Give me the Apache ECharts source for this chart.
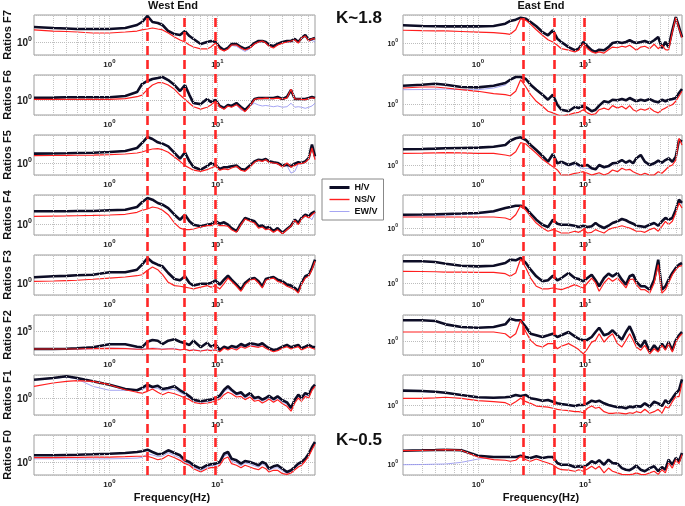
<!DOCTYPE html>
<html><head><meta charset="utf-8">
<script src="https://cdn.jsdelivr.net/npm/echarts@6/dist/echarts.min.js"></script>
<style>html,body{margin:0;padding:0;background:#fff}#c{width:685px;height:506px}</style>
</head><body><div id="c"></div>
<script>
// ---------- DATA ----------
const freq = [0.2,0.3,0.4,0.5,0.7,1.0,1.4,1.8,2.0,2.25,2.5,2.8,3.1,3.5,4.0,4.5,5.0,5.5,6.0,7.0,8.0,8.7,9.6,10.5,11.5,12.5,13.5,15,16.5,18,20,22,24,26,28,30,33,36,40,44,48,52,56,60,65,70,75,80];
const floors = ['F7','F6','F5','F4','F3','F2','F1','F0'];
const xTickExponents = [0, 1];
const dashWest = [2.25, 4.95, 9.45];
const dashEast = [2.57, 5.03, 9.55];

// West End
const westF7HV = [2.37,2.24,2.17,2.11,2.11,2.11,2.24,2.66,3.16,4.47,3.16,2.99,2.66,1.88,1.58,1.5,1.88,1.41,1.19,0.89,1.0,1.06,1.0,0.75,0.63,0.71,0.89,0.89,0.75,0.67,0.75,0.94,1.06,1.06,1.0,0.84,0.79,0.89,1.0,1.06,1.06,1.19,1.0,1.26,1.5,1.12,1.19,1.26];
const westF7NS = [2.0,1.88,1.83,1.78,1.68,1.68,1.78,1.88,2.0,2.11,2.24,2.11,2.0,1.68,1.33,1.12,1.0,0.84,0.75,0.67,0.67,0.75,0.94,0.67,0.6,0.67,0.84,0.84,0.71,0.63,0.71,0.89,1.0,1.06,0.94,0.79,0.71,0.84,0.94,1.0,1.06,1.12,0.94,1.26,1.41,1.06,1.19,1.19];
const westF7EW = [2.37,2.24,2.17,2.11,2.11,2.11,2.24,2.6,3.1,4.3,3.1,2.95,2.6,1.85,1.55,1.5,1.85,1.38,1.15,0.87,0.97,1.03,0.97,0.72,0.6,0.68,0.82,0.78,0.66,0.58,0.68,0.88,1.0,1.03,0.95,0.8,0.74,0.85,0.96,1.0,1.02,1.12,0.95,1.2,1.4,1.05,1.1,1.0];
const westF6HV = [1.14,1.15,1.17,1.17,1.17,1.17,1.26,1.58,2.51,2.99,3.35,3.55,3.76,3.16,2.37,1.68,2.37,1.33,0.84,0.79,1.06,0.89,1.0,0.71,0.63,0.75,0.71,0.84,0.67,0.56,0.75,1.06,1.12,1.12,1.12,1.12,1.12,1.19,1.06,1.19,1.78,1.06,1.06,1.06,1.06,1.12,1.19,1.12];
const westF6NS = [1.04,1.04,1.04,1.04,1.04,1.04,1.08,1.21,1.33,1.85,2.37,2.71,2.71,2.37,1.85,1.33,1.04,0.83,0.68,0.59,0.66,0.75,0.94,0.68,0.59,0.71,0.66,0.76,0.62,0.51,0.71,1.04,1.1,1.08,1.12,1.1,1.08,1.12,1.06,1.12,1.85,1.06,1.06,1.04,1.02,1.08,1.14,1.1];
const westF6EW = [1.14,1.15,1.17,1.17,1.17,1.17,1.26,1.55,2.45,2.9,3.25,3.45,3.6,3.0,2.3,1.6,2.2,1.25,0.8,0.76,1.0,0.86,0.96,0.69,0.6,0.72,0.75,0.75,0.56,0.53,0.71,0.83,0.75,0.71,0.73,0.71,0.68,0.71,0.66,0.68,0.83,0.66,0.68,0.66,0.62,0.66,0.71,0.83];
const westF5HV = [1.71,1.73,1.75,1.78,1.81,1.88,2.0,2.37,3.16,4.47,3.98,3.29,3.04,2.61,1.78,1.28,1.85,1.1,0.79,0.68,0.83,1.0,0.88,0.71,0.78,0.79,0.83,0.86,0.71,0.68,0.86,1.1,1.21,1.17,1.26,1.1,1.04,1.0,0.86,0.91,0.83,0.96,1.04,1.0,1.1,1.33,2.87,1.47];
const westF5NS = [1.52,1.54,1.55,1.56,1.58,1.61,1.68,1.78,1.88,2.08,2.24,2.28,2.15,1.85,1.41,1.1,0.86,0.75,0.66,0.62,0.68,0.75,0.83,0.66,0.71,0.68,0.75,0.83,0.66,0.62,0.79,1.04,1.17,1.1,1.21,1.04,1.0,0.96,0.79,1.0,0.79,0.86,0.96,0.96,1.04,1.26,2.37,1.21];
const westF5EW = [1.71,1.73,1.75,1.78,1.81,1.88,2.0,2.3,3.05,4.3,3.85,3.2,2.95,2.55,1.75,1.26,1.8,1.08,0.78,0.67,0.81,0.97,0.86,0.7,0.76,0.77,0.8,0.84,0.7,0.66,0.84,1.06,1.17,1.13,1.2,1.06,1.0,0.95,0.82,0.86,0.56,0.62,0.95,0.95,1.05,1.25,2.6,1.3];
const westF4HV = [2.08,2.08,2.09,2.11,2.11,2.2,2.28,2.66,3.49,4.47,4.05,3.35,3.04,2.51,1.71,1.28,1.71,1.17,0.96,0.88,0.96,1.0,1.17,1.02,1.1,0.96,0.79,0.66,1.02,1.41,1.28,1.17,0.88,0.91,0.79,0.84,0.66,0.79,0.6,0.75,0.91,1.28,1.06,1.41,1.71,1.56,1.88,2.08];
const westF4NS = [1.56,1.58,1.59,1.61,1.64,1.68,1.75,1.96,2.2,2.37,2.66,2.51,2.2,1.71,1.06,0.79,0.72,0.72,0.75,0.84,0.91,0.91,1.02,0.91,0.91,0.88,0.72,0.62,0.96,1.33,1.17,1.06,0.79,0.84,0.72,0.75,0.62,0.72,0.57,0.72,0.88,1.24,0.96,1.33,1.61,1.41,1.71,1.96];
const westF4EW = [2.08,2.08,2.09,2.11,2.11,2.2,2.28,2.6,3.4,4.35,3.95,3.28,2.98,2.45,1.68,1.26,1.68,1.15,0.95,0.87,0.95,0.98,1.14,1.0,1.07,0.94,0.77,0.65,1.0,1.38,1.25,1.14,0.86,0.89,0.77,0.82,0.65,0.77,0.6,0.74,0.89,1.24,1.04,1.36,1.6,1.5,1.28,1.9];
const westF3HV = [1.39,1.47,1.51,1.56,1.61,1.85,1.85,2.15,2.87,4.22,3.29,2.87,2.61,1.78,1.26,1.17,1.47,1.0,0.86,0.96,0.96,1.0,1.17,0.91,1.21,1.52,1.21,0.91,0.68,1.0,1.26,1.33,1.1,0.83,1.26,1.33,1.41,1.21,1.1,0.91,0.86,0.75,0.62,1.0,1.47,1.61,2.37,3.83];
const westF3NS = [1.1,1.12,1.15,1.17,1.24,1.33,1.41,1.52,1.61,2.08,2.51,2.15,1.61,1.04,0.86,0.83,0.79,0.75,0.71,0.79,0.86,0.79,0.86,0.71,0.96,1.33,1.1,0.83,0.62,0.91,1.17,1.26,1.0,0.75,1.17,1.26,1.33,1.1,1.0,0.83,0.75,0.68,0.56,0.91,1.33,1.47,2.15,3.49];
const westF3EW = [1.39,1.45,1.5,1.55,1.6,1.82,1.82,2.1,2.8,4.1,3.2,2.8,2.55,1.75,1.22,1.12,1.4,0.96,0.84,0.93,0.94,0.97,1.12,0.89,1.17,1.47,1.17,0.88,0.66,0.97,1.22,1.3,1.07,0.8,1.22,1.3,1.37,1.18,1.06,0.88,0.82,0.72,0.6,0.96,1.42,1.55,2.3,3.7];
const westF2HV = [25100,25100,25700,26500,28600,36000,36000,30000,28600,44000,50100,47500,36800,47500,52800,44000,38900,34200,47500,28600,40700,30000,36000,23300,30000,26500,31600,28600,36800,31600,38900,36800,34200,38900,31600,26500,23300,24600,30000,34200,28600,31600,34200,26500,30000,34200,30000,28600];
const westF2NS = [25100,25100,25100,25100,25700,26500,25700,24600,24600,25100,25700,25100,24600,25100,25100,23300,24600,22100,23300,21500,23300,22100,23300,20400,26500,23300,26500,23300,30000,26500,31600,30000,28600,31600,26500,23300,20400,22100,26500,30000,25100,27700,30000,23300,26500,30000,26500,24600];
const westF2EW = [24500,24500,24600,24800,25500,27000,26500,25000,24800,26000,27000,26500,25000,26000,26500,23800,24800,22800,23800,22000,23800,22800,23800,21000,28000,24500,29000,25000,32000,29000,34000,32000,30500,34500,29000,25000,21500,23500,29000,32000,27000,29500,32000,25000,29000,32000,29000,26500];
const westF1HV = [2.87,3.16,3.49,3.16,2.61,2.15,1.68,1.56,1.78,2.15,1.88,2.03,1.68,1.78,1.96,1.56,1.33,1.1,0.91,0.83,0.88,0.91,1.0,1.14,1.61,1.96,1.61,1.28,1.39,1.1,1.33,1.0,1.06,0.91,1.0,1.14,0.94,1.1,0.88,0.78,0.56,0.91,1.21,1.0,1.33,1.21,1.78,2.15];
const westF1NS = [1.96,2.37,2.61,2.71,2.61,2.15,1.61,1.39,1.33,1.47,1.68,1.39,1.21,1.39,1.28,1.14,1.0,0.91,0.78,0.72,0.75,0.78,0.83,0.94,1.21,1.39,1.28,1.06,1.1,0.91,1.06,0.83,0.88,0.75,0.83,0.94,0.78,0.91,0.72,0.62,0.47,0.75,1.0,0.83,1.1,1.0,1.56,1.96];
const westF1EW = [2.82,3.07,3.35,2.99,1.96,1.56,1.56,1.56,1.63,1.88,1.8,1.75,1.5,1.6,1.65,1.38,1.18,1.02,0.85,0.78,0.82,0.85,0.92,1.05,1.42,1.7,1.45,1.18,1.25,1.0,1.2,0.92,0.97,0.83,0.92,1.05,0.86,1.0,0.8,0.7,0.52,0.83,1.1,0.92,1.2,1.1,1.68,2.05];
const westF0HV = [1.47,1.47,1.5,1.52,1.56,1.61,1.68,1.78,1.85,2.03,1.78,1.56,1.61,1.96,1.68,1.47,1.1,1.0,0.83,0.68,0.83,0.88,0.91,1.0,1.61,1.78,1.21,1.1,0.91,1.06,1.0,0.91,0.83,1.0,0.91,0.68,0.78,0.83,0.68,0.56,0.62,0.75,0.91,1.0,1.21,1.61,2.37,3.16];
const westF0NS = [1.28,1.29,1.3,1.3,1.32,1.33,1.36,1.39,1.39,1.39,1.28,1.14,1.21,1.47,1.28,1.1,0.91,0.83,0.68,0.56,0.68,0.72,0.72,0.83,1.21,1.33,0.91,0.83,0.72,0.83,0.75,0.68,0.64,0.75,0.68,0.56,0.62,0.62,0.51,0.49,0.53,0.64,0.75,0.83,1.06,1.39,2.03,2.77];
const westF0EW = [1.2,1.2,1.2,1.19,1.19,1.2,1.22,1.25,1.3,1.6,1.5,1.35,1.4,1.7,1.45,1.25,0.98,0.9,0.75,0.6,0.75,0.8,0.82,0.92,1.4,1.55,1.05,0.95,0.8,0.95,0.88,0.8,0.74,0.88,0.8,0.62,0.7,0.72,0.6,0.52,0.58,0.7,0.84,0.92,1.15,1.5,2.2,3.0];

// East End
const eastF7HV = [2.77,2.66,2.63,2.61,2.61,2.61,2.66,3.04,3.55,3.83,4.3,4.05,3.35,2.61,1.88,1.56,2.08,1.28,1.06,0.79,0.66,0.72,1.06,0.83,0.66,0.6,0.68,0.66,0.79,1.0,1.06,1.0,1.06,1.17,1.06,1.0,1.06,1.12,1.0,1.17,1.41,0.75,1.06,0.79,2.08,4.47,2.51,1.41];
const eastF7NS = [2.08,2.04,2.02,2.0,1.94,1.88,1.81,1.71,1.65,2.15,4.05,3.69,2.93,2.15,1.56,1.21,1.06,0.88,0.72,0.66,0.6,0.66,0.96,0.72,0.6,0.56,0.6,0.56,0.68,0.79,0.76,0.83,0.79,0.88,0.76,0.66,0.79,0.83,0.72,0.93,0.72,0.88,0.68,0.66,1.88,4.3,2.28,1.36];
const eastF7EW = [2.77,2.66,2.63,2.61,2.61,2.61,2.66,3.0,3.5,3.8,4.25,4.0,3.3,2.58,1.85,1.53,2.0,1.25,1.0,0.74,0.62,0.68,1.0,0.8,0.64,0.58,0.66,0.64,0.77,0.97,1.03,0.98,1.03,1.13,1.03,0.97,1.03,1.08,0.98,1.13,1.35,0.74,1.03,0.78,2.0,4.3,2.45,1.4];
const eastF6HV = [2.87,3.04,3.22,3.04,2.66,2.61,2.87,3.35,4.05,4.73,4.73,4.22,3.04,2.28,1.71,1.28,1.71,0.96,0.72,0.66,0.84,0.79,0.91,0.79,0.66,0.72,0.91,1.17,1.1,1.28,1.24,1.33,1.24,1.41,1.28,1.17,1.28,1.21,1.33,1.17,1.1,1.28,1.17,1.28,1.33,1.41,1.88,2.37];
const eastF6NS = [2.51,2.66,2.66,2.51,2.28,2.08,1.81,1.71,1.61,2.08,4.05,2.66,1.71,1.17,0.88,0.66,0.6,0.54,0.49,0.54,0.6,0.62,0.72,0.6,0.54,0.57,0.72,0.79,0.72,0.91,0.79,0.88,0.75,0.91,0.72,0.66,0.75,0.7,0.79,0.66,0.6,0.72,0.79,0.88,0.96,1.17,1.56,2.08];
const eastF6EW = [2.28,2.3,2.34,2.37,2.28,2.28,2.51,2.99,3.9,4.6,4.6,4.1,2.98,2.24,1.68,1.26,1.66,0.94,0.7,0.64,0.82,0.77,0.89,0.77,0.64,0.7,0.88,1.13,1.06,1.24,1.2,1.29,1.2,1.36,1.24,1.13,1.24,1.17,1.28,1.13,1.06,1.24,1.13,1.22,1.26,1.33,1.75,2.2];
const eastF5HV = [2.47,2.51,2.56,2.61,2.66,2.71,2.87,3.16,4.05,4.65,4.92,4.22,3.16,2.37,1.68,1.21,1.88,1.1,1.21,1.0,1.14,1.0,0.94,1.0,0.83,0.78,1.0,0.88,0.94,1.1,1.14,1.33,1.14,1.28,1.1,1.47,1.78,1.21,1.0,1.1,1.28,1.14,1.33,1.47,1.21,1.61,4.22,3.83];
const eastF5NS = [1.96,1.98,2.01,2.03,2.0,1.96,1.96,1.78,1.68,2.15,3.61,3.35,2.61,1.96,1.39,1.1,0.91,0.75,0.56,0.56,0.62,0.64,0.68,0.62,0.56,0.6,0.64,0.56,0.62,0.75,0.68,0.83,0.75,0.78,0.68,0.62,0.56,0.62,0.56,0.56,0.68,0.62,0.75,0.91,1.0,1.33,4.65,3.16];
const eastF5EW = [2.47,2.51,2.56,2.61,2.66,2.71,2.85,3.1,3.95,4.55,4.85,4.15,3.1,2.33,1.65,1.18,1.8,1.06,1.15,0.95,1.06,0.92,0.8,0.82,0.8,0.76,0.95,0.85,0.9,1.05,1.1,1.28,1.1,1.22,1.06,1.4,1.7,1.17,0.97,1.06,1.22,1.1,1.28,1.4,1.17,1.55,4.3,3.6];
const eastF4HV = [2.15,2.17,2.2,2.24,2.3,2.37,2.61,3.16,3.35,3.61,3.61,3.16,2.28,1.61,1.21,1.06,1.61,1.28,1.21,1.21,1.14,1.06,1.14,1.06,1.1,1.33,1.14,1.0,1.14,1.33,1.47,1.68,1.56,1.39,1.28,1.14,1.1,1.06,1.21,1.33,1.14,1.47,1.78,1.61,1.78,2.87,5.1,4.22];
const eastF4NS = [1.88,1.88,1.88,1.88,1.88,1.88,1.88,1.78,1.61,2.15,3.61,2.77,1.96,1.33,1.0,0.83,0.91,0.83,0.75,0.75,0.83,0.78,0.91,0.75,0.78,0.91,0.83,0.75,0.91,1.0,1.06,1.14,1.06,1.0,0.91,0.83,0.83,0.78,0.91,1.0,0.83,1.1,1.47,1.21,1.47,2.37,4.22,3.16];
const eastF4EW = [2.0,2.02,2.05,2.1,2.15,2.25,2.5,3.05,3.25,3.5,3.5,3.05,2.2,1.56,1.18,1.03,1.55,1.24,1.17,1.17,1.1,1.03,1.1,1.03,1.06,1.28,1.1,0.97,1.1,1.28,1.42,1.62,1.5,1.34,1.24,1.1,1.06,1.03,1.17,1.28,1.1,1.42,1.72,1.56,1.72,2.75,4.9,4.0];
const eastF3HV = [3.49,3.49,3.35,3.04,2.71,2.61,2.71,3.16,3.83,3.69,4.22,3.16,2.15,1.47,1.1,1.17,1.52,1.17,1.33,1.78,1.33,1.26,1.1,1.33,1.61,1.17,0.83,1.33,1.71,1.47,1.78,1.21,0.91,1.47,1.61,1.1,0.83,0.83,0.68,1.21,3.83,0.68,0.83,1.21,1.78,2.37,2.87,3.16];
const eastF3NS = [1.96,1.94,1.91,1.88,1.86,1.85,1.85,1.71,1.47,1.78,3.98,2.37,1.33,0.83,0.71,0.71,0.75,0.71,0.68,0.79,0.91,0.83,0.75,1.0,1.33,1.0,0.62,1.0,1.33,1.1,1.33,1.0,0.75,1.21,1.26,0.91,0.68,0.68,0.56,1.0,2.87,0.56,0.68,1.0,1.61,2.15,2.61,2.71];
const eastF3EW = [3.49,3.49,3.35,3.04,2.71,2.61,2.71,3.1,3.75,3.6,4.1,3.1,2.1,1.44,1.07,1.13,1.48,1.13,1.28,1.72,1.28,1.22,1.06,1.28,1.56,1.13,0.8,1.28,1.66,1.42,1.72,1.17,0.88,1.42,1.56,1.06,0.8,0.8,0.66,1.17,3.6,0.66,0.8,1.17,1.7,2.3,2.8,3.1];
const eastF2HV = [3.29,3.29,3.16,2.61,2.24,2.15,2.24,2.61,3.61,3.29,3.29,2.24,1.52,1.39,1.26,1.39,1.52,1.26,1.39,1.68,1.31,1.14,1.04,1.08,1.26,1.68,2.15,1.39,1.52,1.85,1.39,1.08,1.68,2.33,1.52,0.94,0.71,1.04,0.53,0.78,0.59,0.86,0.64,0.94,0.59,1.04,1.39,1.68];
const eastF2NS = [1.68,1.68,1.68,1.68,1.68,1.68,1.68,1.52,1.21,1.52,3.29,1.68,1.04,0.78,0.71,0.86,0.86,0.64,0.74,0.86,0.71,0.61,0.48,0.64,0.94,1.04,1.52,0.94,1.26,1.52,0.86,0.71,1.04,1.52,1.04,0.71,0.59,0.78,0.48,0.64,0.53,0.78,0.59,0.86,0.53,0.94,1.26,1.52];
const eastF2EW = [3.29,3.29,3.16,2.61,2.24,2.15,2.24,2.58,3.5,3.2,3.2,2.2,1.48,1.35,1.22,1.35,1.48,1.22,1.35,1.62,1.27,1.1,1.0,1.04,1.22,1.62,2.08,1.35,1.48,1.8,1.35,1.04,1.62,2.25,1.48,0.9,0.68,1.0,0.51,0.75,0.56,0.83,0.61,0.9,0.56,1.0,1.35,1.62];
const eastF1HV = [2.28,2.24,2.14,2.03,1.78,1.56,1.52,1.56,1.61,1.78,1.68,1.78,1.47,1.39,1.28,1.33,1.21,1.1,1.06,1.0,0.94,1.0,1.0,1.1,1.28,1.21,1.28,1.1,1.0,0.94,0.88,0.88,0.83,0.91,0.88,0.94,0.91,1.1,0.91,1.21,1.1,0.94,1.33,1.1,1.47,1.96,2.37,4.39];
const eastF1NS = [1.47,1.47,1.51,1.56,1.47,1.28,1.21,1.14,1.0,1.21,1.47,1.21,1.1,0.94,0.91,0.88,0.83,0.78,0.75,0.72,0.68,0.68,0.64,0.83,0.94,0.83,0.88,0.68,0.62,0.62,0.64,0.62,0.6,0.64,0.62,0.68,0.64,0.78,0.62,0.68,0.78,0.62,0.91,0.83,1.21,1.61,1.61,3.49];
const eastF1EW = [2.2,2.16,2.08,1.98,1.74,1.53,1.49,1.53,1.58,1.74,1.65,1.74,1.44,1.36,1.25,1.3,1.18,1.07,1.03,0.97,0.91,0.97,0.97,1.07,1.25,1.18,1.25,1.07,0.97,0.91,0.85,0.85,0.8,0.88,0.85,0.91,0.88,1.07,0.88,1.17,1.07,0.91,1.3,1.07,1.42,1.9,2.3,4.2];
const eastF0HV = [2.15,2.2,2.24,2.28,2.2,1.61,1.5,1.5,1.5,1.5,1.61,1.5,1.41,1.56,1.41,1.5,1.5,1.06,0.96,0.96,0.84,0.88,0.84,0.96,1.17,1.06,1.24,0.96,1.28,1.06,1.02,0.79,0.72,0.7,0.79,0.91,0.72,0.66,0.79,0.88,0.66,0.84,0.72,1.28,0.96,1.41,1.17,1.88];
const eastF0NS = [2.15,2.2,2.24,2.28,2.2,1.5,1.28,1.24,1.17,1.24,1.56,1.28,1.17,1.33,1.17,1.06,0.96,0.79,0.72,0.7,0.66,0.72,0.66,0.75,0.88,0.75,0.88,0.6,0.79,0.66,0.6,0.55,0.54,0.54,0.56,0.6,0.55,0.54,0.6,0.66,0.55,0.72,0.6,1.06,0.79,1.28,1.02,1.71];
const eastF0EW = [0.96,0.97,0.99,1.0,1.1,1.33,1.45,1.48,1.48,1.48,1.58,1.47,1.38,1.52,1.38,1.47,1.45,1.02,0.93,0.92,0.81,0.85,0.81,0.92,1.12,1.02,1.18,0.92,1.22,1.02,0.98,0.76,0.69,0.67,0.76,0.87,0.69,0.63,0.76,0.84,0.63,0.8,0.69,1.22,0.92,1.35,1.12,1.8];

// y-axis ranges (log scale) per panel, top row (F7) to bottom row (F0)
const westYMin = [0.473,0.422,0.501,0.531,0.501,15850,0.376,0.473];
const westYMax = [4.73,4.22,5.01,5.31,5.01,341000,3.76,4.73];
const westYTickExp = [0,0,0,0,0,5,0,0];
const eastYMin = [0.501,0.531,0.562,0.668,0.501,0.447,0.562,0.531];
const eastYMax = [5.01,5.31,5.62,6.68,5.01,4.47,5.62,5.31];

const westHV = [westF7HV,westF6HV,westF5HV,westF4HV,westF3HV,westF2HV,westF1HV,westF0HV];
const westNS = [westF7NS,westF6NS,westF5NS,westF4NS,westF3NS,westF2NS,westF1NS,westF0NS];
const westEW = [westF7EW,westF6EW,westF5EW,westF4EW,westF3EW,westF2EW,westF1EW,westF0EW];
const eastHV = [eastF7HV,eastF6HV,eastF5HV,eastF4HV,eastF3HV,eastF2HV,eastF1HV,eastF0HV];
const eastNS = [eastF7NS,eastF6NS,eastF5NS,eastF4NS,eastF3NS,eastF2NS,eastF1NS,eastF0NS];
const eastEW = [eastF7EW,eastF6EW,eastF5EW,eastF4EW,eastF3EW,eastF2EW,eastF1EW,eastF0EW];

const minorGrid = [0.3,0.4,0.5,0.6,0.7,0.8,0.9,1,2,3,4,5,6,7,8,9,10,20,30,40,50,60,70];

// ---------- CHART ----------
const FONT = '"Liberation Sans", Arial, Helvetica, sans-serif';
const chart = echarts.init(document.getElementById('c'), null, {renderer:'canvas'});
const grids = [], xAxes = [], yAxes = [], series = [];

function powLabel(v, allowed) {
  const e = Math.log10(v), r = Math.round(e);
  if (Math.abs(e - r) > 1e-6 || allowed.indexOf(r) < 0) return '';
  return '{b|10}{s|' + r + '}';
}
function rich(big, small, lh) {
  return {
    b: {fontSize: big, fontWeight: 'bold', color: '#1a1a1a', fontFamily: FONT, lineHeight: lh, verticalAlign: 'bottom'},
    s: {fontSize: small, fontWeight: 'bold', color: '#1a1a1a', fontFamily: FONT, lineHeight: small, verticalAlign: 'top'}
  };
}
const pairs = (arr) => freq.map((f, k) => [f, arr[k]]);

const columns = [
  {left: 34, hv: westHV, ns: westNS, ew: westEW, ymin: westYMin, ymax: westYMax, named: true},
  {left: 403, hv: eastHV, ns: eastNS, ew: eastEW, ymin: eastYMin, ymax: eastYMax, named: false}
];

let gi = 0;
columns.forEach((col, ci) => {
  for (let r = 0; r < 8; r++) {
    const ymin = col.ymin[r], ymax = col.ymax[r];
    const exp = ci === 0 ? westYTickExp[r] : 0;
    grids.push({left: col.left, top: 15 + 60 * r, width: 281, height: 40, show: true,
      borderColor: '#9d9d9d', borderWidth: 1, backgroundColor: '#fff'});
    xAxes.push({type: 'log', logBase: 10, gridIndex: gi, min: 0.2, max: 80,
      axisLine: {show: false}, axisTick: {show: false}, splitLine: {show: false},
      axisLabel: {margin: 3, formatter: v => powLabel(v, xTickExponents), rich: rich(8, 6, 11)}});
    yAxes.push({type: 'log', logBase: 10, gridIndex: gi, min: ymin, max: ymax,
      axisLine: {show: false}, axisTick: {show: false},
      splitLine: {show: true, lineStyle: {color: '#bdbdbd', type: 'dotted', width: 1}},
      axisLabel: ci === 0
        ? {margin: 2, formatter: v => powLabel(v, [exp]), rich: rich(10, 7, 13)}
        : {margin: 5, formatter: v => powLabel(v, [0]), rich: rich(7, 5, 9)},
      name: col.named ? 'Ratios ' + floors[r] : '',
      nameLocation: 'middle', nameGap: 18, nameRotate: 90,
      nameTextStyle: {fontSize: 11, fontWeight: 'bold', color: '#111', fontFamily: FONT}});
    // minor log grid (vertical dotted lines)
    series.push({type: 'line', xAxisIndex: gi, yAxisIndex: gi, data: [[1, ymin * 1.01]],
      showSymbol: false, symbol: 'none', lineStyle: {opacity: 0}, silent: true, z: 1,
      markLine: {silent: true, symbol: ['none', 'none'], label: {show: false}, animation: false,
        lineStyle: {color: '#c4c4c4', type: 'dotted', width: 1},
        data: minorGrid.map(v => ({xAxis: v}))}});
    series.push({name: 'EW/V', type: 'line', xAxisIndex: gi, yAxisIndex: gi, data: pairs(col.ew[r]),
      symbol: 'none', lineStyle: {color: '#8f8ff0', width: 1, opacity: 0.8}, itemStyle: {color: '#8f8ff0'}, z: 2});
    series.push({name: 'H/V', type: 'line', xAxisIndex: gi, yAxisIndex: gi, data: pairs(col.hv[r]),
      symbol: 'none', lineStyle: {color: '#0d0d26', width: 2.6}, itemStyle: {color: '#0d0d26'}, z: 3});
    series.push({name: 'NS/V', type: 'line', xAxisIndex: gi, yAxisIndex: gi, data: pairs(col.ns[r]),
      symbol: 'none', lineStyle: {color: '#ff1f1f', width: 1.2}, itemStyle: {color: '#ff1f1f'}, z: 4});
    gi++;
  }
});

// overlay grids for the long dashed reference lines
[[34, dashWest], [403, dashEast]].forEach(([left, vals]) => {
  grids.push({left: left, top: 15, width: 281, height: 460, show: false});
  xAxes.push({type: 'log', logBase: 10, gridIndex: gi, min: 0.2, max: 80, show: false});
  yAxes.push({type: 'value', gridIndex: gi, min: 0, max: 1, show: false});
  series.push({type: 'line', xAxisIndex: gi, yAxisIndex: gi, data: [[1, 0.5]], symbol: 'none',
    lineStyle: {opacity: 0}, silent: true, z: 10,
    markLine: {silent: true, symbol: ['none', 'none'], label: {show: false}, animation: false,
      lineStyle: {color: '#ff2626', type: [9, 5], width: 2.6},
      data: vals.map(v => ({xAxis: v}))}});
  gi++;
});

chart.setOption({
  animation: false,
  backgroundColor: '#fff',
  textStyle: {fontFamily: FONT},
  grid: grids, xAxis: xAxes, yAxis: yAxes, series: series,
  legend: {data: [
      {name: 'H/V', itemStyle: {opacity: 0}, lineStyle: {width: 3, color: '#0d0d26'}},
      {name: 'NS/V', itemStyle: {opacity: 0}, lineStyle: {width: 1.4, color: '#ff1f1f'}},
      {name: 'EW/V', itemStyle: {opacity: 0}, lineStyle: {width: 1, color: '#9090f0'}}],
    orient: 'vertical', left: 322, top: 179,
    padding: [4, 6], itemGap: 3, itemWidth: 20, itemHeight: 10,
    itemStyle: {opacity: 0},
    borderColor: '#888', borderWidth: 1, backgroundColor: '#fff',
    textStyle: {fontSize: 9, fontWeight: 'bold', color: '#111', fontFamily: FONT}},
  graphic: [
    {type: 'text', x: 173, y: 6, style: {text: 'West End', font: 'bold 11px ' + FONT, fill: '#111', align: 'center', verticalAlign: 'middle'}},
    {type: 'text', x: 541, y: 6, style: {text: 'East End', font: 'bold 11px ' + FONT, fill: '#111', align: 'center', verticalAlign: 'middle'}},
    {type: 'text', x: 359, y: 18, style: {text: 'K~1.8', font: 'bold 17px ' + FONT, fill: '#111', align: 'center', verticalAlign: 'middle'}},
    {type: 'text', x: 359, y: 440, style: {text: 'K~0.5', font: 'bold 17px ' + FONT, fill: '#111', align: 'center', verticalAlign: 'middle'}},
    {type: 'text', x: 172, y: 498, style: {text: 'Frequency(Hz)', font: 'bold 11px ' + FONT, fill: '#111', align: 'center', verticalAlign: 'middle'}},
    {type: 'text', x: 541, y: 498, style: {text: 'Frequency(Hz)', font: 'bold 11px ' + FONT, fill: '#111', align: 'center', verticalAlign: 'middle'}}
  ]
});
</script></body></html>
